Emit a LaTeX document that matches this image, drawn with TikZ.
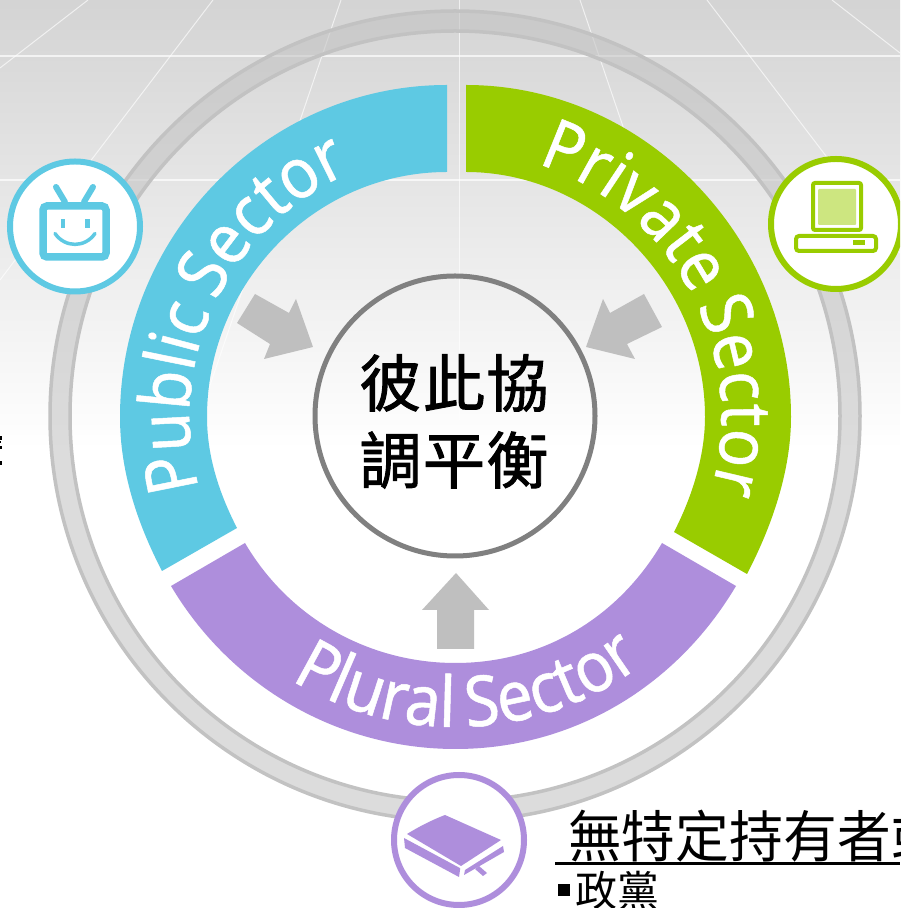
\documentclass[tikz,border=0pt]{standalone}
\usepackage{fontspec}
\usetikzlibrary{calc,decorations.text,shadings}
\newfontfamily\sectorfont[FakeStretch=0.91,FakeBold=0.7,WordSpace=0.7]{Noto Sans}
\newfontfamily\pluralfont[FakeStretch=0.97,FakeBold=0.7,WordSpace=0.7]{Noto Sans}
\newfontfamily\cjkmain[FakeBold=1.5]{Noto Sans CJK TC}
\newfontfamily\cjkplain{Noto Sans CJK TC}
\newfontfamily\cjktitle[FakeStretch=0.96]{Noto Sans CJK TC}
\definecolor{pubblue}{HTML}{5EC9E3}
\definecolor{privgreen}{HTML}{99CC00}
\definecolor{plurpurple}{HTML}{AE8EDC}
\definecolor{lightgreen}{HTML}{CDE680}
\definecolor{arrowgray}{HTML}{BFBFBF}
\definecolor{ringfill}{HTML}{C3C3C3}
\definecolor{ringline}{HTML}{C2C2C2}
\definecolor{hubline}{HTML}{808080}
\tikzset{
  px/.style={x=1pt,y=-1pt,yshift=908pt},
  gridline/.style={draw=white,line width=1pt,opacity=0.65},
  gridmain/.style={draw=white,line width=2pt,opacity=0.7},
  ringedge/.style={draw=ringline,line width=3.5pt},
  blockarrow/.style={fill=arrowgray},
  badge/.style={circle,fill=white,line width=6pt,minimum size=130pt,inner sep=0pt},
  sectortext/.style={decorate,decoration={text along path,text align=center,text color=white,text={|\fontsize{70}{70}\sectorfont|#1}}},
  pluraltext/.style={decorate,decoration={text along path,text align=center,text color=white,text={|\fontsize{68}{68}\pluralfont|#1}}},
  hubtext/.style={text=black,inner sep=0pt,font=\fontsize{62}{62}\cjkmain},
}
\begin{document}
\begin{tikzpicture}[x=1pt,y=1pt]
\useasboundingbox (0,0) rectangle (900,908);
\clip (0,0) rectangle (900,908);
\coordinate (c) at (455,492);
\coordinate (s) at (455.5,491);
% background
\fill[white] (0,0) rectangle (900,908);
\shade[top color=black!17,bottom color=white] (0,458) rectangle (900,908);
% grid
\begin{scope}[px]
\draw[gridmain] (0,56) -- (900,56);
\draw[gridmain] (0,180) -- (900,180);
\draw[gridline] (88,0) -- (0,68);
\draw[gridline] (213,0) -- (0,280);
\draw[gridline] (341,0) -- (205,400);
\draw[gridline] (459,0) -- (459,420);
\draw[gridline] (580,0) -- (716,400);
\draw[gridline] (707,0) -- (900,253);
\draw[gridline] (832,0) -- (900,53);
\end{scope}
% ring
\fill[ringfill,opacity=0.58,even odd rule] (c) circle[radius=405] (c) circle[radius=385];
\draw[ringedge] (c) circle[radius=405];
\draw[ringedge] (c) circle[radius=385];
% sectors
\begin{scope}[px]
\fill[pubblue] (447,85) .. controls (265,85) and (120,237) .. (120,417)
  .. controls (120,471) and (137,523) .. (162,571)
  -- (237,528) .. controls (219,493) and (207,456) .. (207,417)
  .. controls (207,284) and (314,172) .. (447,172) -- cycle;
\fill[privgreen] (466,85) .. controls (644,85) and (791,237) .. (791,417)
  .. controls (791,471) and (772,526) .. (747,574)
  -- (674,532) .. controls (692,497) and (705,456) .. (705,417)
  .. controls (705,284) and (595,172) .. (466,172) -- cycle;
\fill[plurpurple] (171,586) .. controls (231,687) and (338.5,749) .. (455.5,749)
  .. controls (572.5,749) and (676,687) .. (736,586)
  -- (662,543) .. controls (618,618) and (542.5,663) .. (455.5,663)
  .. controls (368.5,663) and (289,618) .. (245,543) -- cycle;
\end{scope}
% sector labels
\path[sectortext={Public Sector}] ($(s)+(208:266)$) arc[start angle=208,end angle=101,radius=266];
\path[sectortext={Private Sector}] ($(s)+(82:266)$) arc[start angle=82,end angle=-26,radius=266];
\path[sectortext={Plural Sector}] ($(s)+(221.5:310)$) arc[start angle=221.5,end angle=323.5,radius=310];
% arrows
\begin{scope}[px]
\fill[blockarrow] (255,294) -- (289,313) -- (296,299) -- (313,347) -- (264,359) -- (270,344) -- (237,323) -- cycle;
\fill[blockarrow] (644,294) -- (610,313) -- (603,299) -- (586,347) -- (635,359) -- (627,344) -- (662,327) -- cycle;
\fill[blockarrow] (456,573) -- (489,610) -- (474,610) -- (474,649) -- (437,649) -- (437,610) -- (422,610) -- cycle;
\end{scope}
% hub
\node[circle,draw=hubline,line width=5pt,minimum size=280pt,inner sep=0pt] (hub) at (455,492) {};
\node[hubtext] (hubA) at (454,525) {彼\hspace{1.5pt}此\hspace{1.5pt}協};
\node[hubtext] (hubB) at (454,448) {調\hspace{1.5pt}平\hspace{1.5pt}衡};
% badges
\node[badge,draw=pubblue] (tv) at (75,681.5) {};
\node[badge,draw=privgreen] (pc) at (836,684) {};
\node[badge,draw=plurpurple] (book) at (459,68) {};
\begin{scope}[px]
% tv icon
\draw[pubblue,line width=6pt,line cap=round] (56,187) -- (65,202);
\draw[pubblue,line width=6pt,line cap=round] (93,187) -- (84,202);
\draw[pubblue,line width=7.5pt,fill=white,rounded corners=4pt] (43,206) rectangle (106,257);
\fill[pubblue] (61,219) rectangle (65,228);
\fill[pubblue] (85,219) rectangle (90,228);
\draw[pubblue,line width=3.5pt,line cap=round] (55,233.5) .. controls (65,248) and (85,248) .. (95,233.5);
% pc icon
\draw[privgreen,line width=4pt,rounded corners=2pt,fill=white] (813,183) rectangle (861,230);
\fill[lightgreen,rounded corners=1pt] (818,189) rectangle (856,225);
\draw[privgreen,line width=4pt,rounded corners=3pt,fill=white] (796,236) rectangle (876,251);
\fill[privgreen] (853,240) rectangle (865,245);
% book icon
\fill[plurpurple] (407,834) .. controls (420,826) and (432,820) .. (445,815) -- (501,840) -- (461,866) -- cycle;
\fill[plurpurple] (404,838) -- (405,848) -- (459,877) -- (460,870) .. controls (460,868) and (461,868) .. (458,867) -- cycle;
\fill[plurpurple] (464,875) -- (504,852) -- (503,846) -- (465,870) -- cycle;
\fill[plurpurple] (479,866) -- (487,873) -- (483,876) -- (475,869) -- cycle;
% clipped glyph at the left edge
\fill[black] (0,436) rectangle (2,440);
\fill[black] (0,441) rectangle (1,443);
\fill[black] (0,446) rectangle (2,449);
\fill[black] (0,461) rectangle (2,465);
% underline
\draw[black,line width=3pt] (555,864) -- (900,864);
\fill[black] (558,884) rectangle (570,896);
\end{scope}
\node[anchor=west,inner sep=0pt,font=\fontsize{56}{56}\cjktitle] (title) at (568,72) {無特定持有者或};
\node[anchor=west,inner sep=0pt,font=\fontsize{42}{42}\cjkplain] (item) at (575,17) {政黨};
\end{tikzpicture}
\end{document}
